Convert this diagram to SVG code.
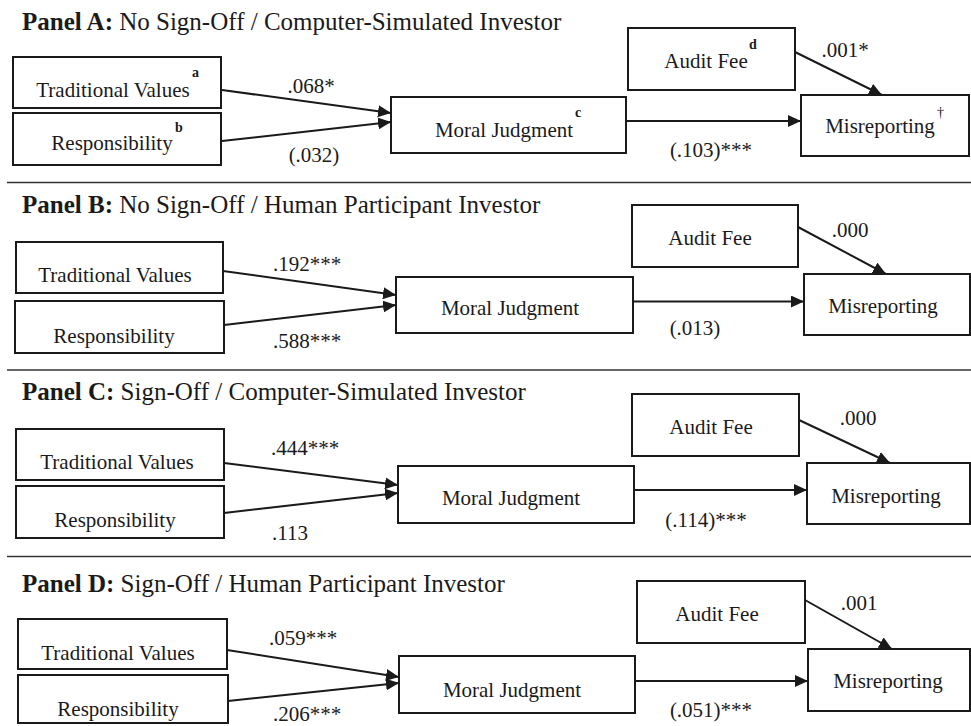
<svg xmlns="http://www.w3.org/2000/svg" width="971" height="726" viewBox="0 0 971 726">
<defs>
<marker id="ah" markerUnits="userSpaceOnUse" markerWidth="13" markerHeight="12" refX="13" refY="6" orient="auto">
<path d="M0,0 L13,6 L0,12 z" fill="#1a1a1a"/>
</marker>
<style>
text{font-family:"Liberation Serif","Times New Roman",serif;fill:#1a1a1a}
.t{font-size:25px}
.t tspan.b{font-weight:bold}
.n{font-size:21px;text-anchor:middle}
.s{font-size:14px;font-weight:bold}
.d{font-size:14px}
.l{font-size:21px;text-anchor:middle}
.box{fill:#fff;stroke:#1a1a1a;stroke-width:2}
.c line{stroke:#1a1a1a;stroke-width:2;marker-end:url(#ah)}
.sep{stroke:#333;stroke-width:1.5}
</style>
</defs>
<rect width="971" height="726" fill="#fff"/>

<!-- Panel A -->
<text class="t" x="22" y="30"><tspan class="b">Panel A:</tspan> No Sign-Off / Computer-Simulated Investor</text>
<g id="A-tv"><rect class="box" x="13" y="57" width="208" height="51"/><text class="n" x="113" y="97">Traditional Values</text><text class="s" x="192" y="77">a</text></g>
<g id="A-resp"><rect class="box" x="13" y="113" width="208" height="52"/><text class="n" x="112" y="150">Responsibility</text><text class="s" x="175" y="132">b</text></g>
<g id="A-mj"><rect class="box" x="391" y="97" width="235" height="56"/><text class="n" x="504" y="137">Moral Judgment</text><text class="s" x="575" y="117">c</text></g>
<g id="A-af"><rect class="box" x="628" y="28" width="167" height="62"/><text class="n" x="706" y="68">Audit Fee</text><text class="s" x="749" y="49">d</text></g>
<g id="A-mis"><rect class="box" x="801" y="95" width="168" height="61"/><text class="n" x="880" y="133">Misreporting</text><text class="d" x="937" y="117">†</text></g>
<g class="c" id="A-conn">
<line x1="222" y1="90" x2="391" y2="113"/>
<line x1="222" y1="141" x2="391" y2="122"/>
<line x1="627" y1="121" x2="801" y2="121"/>
<line x1="795" y1="52" x2="882" y2="95"/>
</g>
<text class="l" x="311" y="93">.068*</text>
<text class="l" x="314" y="162">(.032)</text>
<text class="l" x="711" y="157">(.103)***</text>
<text class="l" x="845" y="57">.001*</text>
<line class="sep" x1="7" y1="182.5" x2="971" y2="182.5"/>

<!-- Panel B -->
<text class="t" x="22" y="213"><tspan class="b">Panel B:</tspan> No Sign-Off / Human Participant Investor</text>
<g id="B-tv"><rect class="box" x="16" y="242" width="207" height="51"/><text class="n" x="115" y="282">Traditional Values</text></g>
<g id="B-resp"><rect class="box" x="15" y="301" width="209" height="52"/><text class="n" x="114" y="343">Responsibility</text></g>
<g id="B-mj"><rect class="box" x="396" y="277" width="237" height="56"/><text class="n" x="510" y="315">Moral Judgment</text></g>
<g id="B-af"><rect class="box" x="632" y="205" width="166" height="62"/><text class="n" x="710" y="245">Audit Fee</text></g>
<g id="B-mis"><rect class="box" x="804" y="274" width="166" height="61"/><text class="n" x="883" y="313">Misreporting</text></g>
<g class="c" id="B-conn">
<line x1="223" y1="271" x2="396" y2="295"/>
<line x1="224" y1="325" x2="396" y2="305"/>
<line x1="633" y1="301.5" x2="804" y2="301.5"/>
<line x1="798" y1="227" x2="886" y2="274"/>
</g>
<text class="l" x="307" y="271">.192***</text>
<text class="l" x="307" y="348">.588***</text>
<text class="l" x="695" y="335">(.013)</text>
<text class="l" x="850" y="237">.000</text>
<line class="sep" x1="7" y1="370" x2="971" y2="370"/>

<!-- Panel C -->
<text class="t" x="22" y="400"><tspan class="b">Panel C:</tspan> Sign-Off / Computer-Simulated Investor</text>
<g id="C-tv"><rect class="box" x="16" y="429" width="208" height="51"/><text class="n" x="117" y="469">Traditional Values</text></g>
<g id="C-resp"><rect class="box" x="16" y="486" width="208" height="52"/><text class="n" x="115" y="527">Responsibility</text></g>
<g id="C-mj"><rect class="box" x="398" y="466" width="236" height="57"/><text class="n" x="511" y="505">Moral Judgment</text></g>
<g id="C-af"><rect class="box" x="632" y="394" width="167" height="62"/><text class="n" x="711" y="434">Audit Fee</text></g>
<g id="C-mis"><rect class="box" x="807" y="463" width="163" height="61"/><text class="n" x="886" y="503">Misreporting</text></g>
<g class="c" id="C-conn">
<line x1="224" y1="463" x2="398" y2="485"/>
<line x1="224" y1="513" x2="398" y2="493"/>
<line x1="634" y1="490" x2="807" y2="490"/>
<line x1="799" y1="420" x2="890" y2="463"/>
</g>
<text class="l" x="305" y="455">.444***</text>
<text class="l" x="290" y="540">.113</text>
<text class="l" x="706" y="527">(.114)***</text>
<text class="l" x="858" y="425">.000</text>
<line class="sep" x1="7" y1="556.5" x2="971" y2="556.5"/>

<!-- Panel D -->
<text class="t" x="22" y="592"><tspan class="b">Panel D:</tspan> Sign-Off / Human Participant Investor</text>
<g id="D-tv"><rect class="box" x="18" y="619" width="209" height="50"/><text class="n" x="118" y="660">Traditional Values</text></g>
<g id="D-resp"><rect class="box" x="18" y="675" width="210" height="48"/><text class="n" x="118" y="716">Responsibility</text></g>
<g id="D-mj"><rect class="box" x="399" y="656" width="236" height="57"/><text class="n" x="512" y="697">Moral Judgment</text></g>
<g id="D-af"><rect class="box" x="637" y="581" width="168" height="62"/><text class="n" x="717" y="621">Audit Fee</text></g>
<g id="D-mis"><rect class="box" x="808" y="649" width="162" height="62"/><text class="n" x="888" y="688">Misreporting</text></g>
<g class="c" id="D-conn">
<line x1="227" y1="650" x2="399" y2="677"/>
<line x1="228" y1="701" x2="399" y2="683"/>
<line x1="635" y1="681" x2="808" y2="681"/>
<line x1="805" y1="600" x2="892" y2="649"/>
</g>
<text class="l" x="303" y="645">.059***</text>
<text class="l" x="307" y="721">.206***</text>
<text class="l" x="711" y="717">(.051)***</text>
<text class="l" x="859" y="610">.001</text>
</svg>
